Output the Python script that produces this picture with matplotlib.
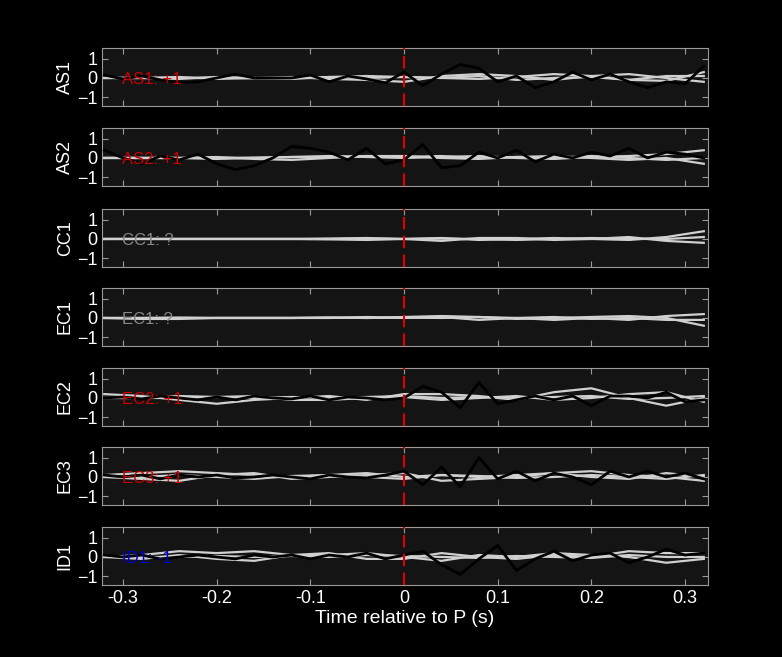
import matplotlib
matplotlib.use("Agg")
import matplotlib.pyplot as plt
import numpy as np

plt.rcParams['font.family'] = ['Liberation Sans', 'DejaVu Sans']

stations = ["AS1", "AS2", "CC1", "EC1", "EC2", "EC3", "ID1"]
polarity = ["+1", "+1", "?", "?", "+1", "+1", "-1"]
pol_colors = {"+1": "#cc0000", "?": "#888888", "-1": "#0000cc"}

t_black = np.round(np.arange(-0.32, 0.3201, 0.02), 3)
black = {
    "AS1": [0.15,-0.05,0.1,-0.1,-0.25,-0.2,0.0,0.2,0.0,0.0,0.0,0.15,-0.2,0.1,-0.05,-0.25,0.3,
            -0.4,0.2,0.7,0.5,-0.2,0.1,-0.5,-0.2,0.3,-0.1,0.2,-0.2,-0.5,-0.2,-0.3,0.6],
    "AS2": [0.4,0.0,-0.3,0.1,-0.1,0.2,-0.3,-0.6,-0.4,0.0,0.6,0.5,0.3,-0.1,0.5,-0.3,-0.1,
            0.7,-0.5,-0.4,0.3,0.0,0.4,-0.2,0.2,0.0,0.3,0.1,0.5,0.0,0.3,0.2,0.0],
    "CC1": None,
    "EC1": None,
    "EC2": [0,0.05,-0.05,0.1,0,-0.1,0.05,-0.1,0.1,0,-0.05,0.1,-0.1,0.05,0.0,-0.1,0.0,
            0.6,0.3,-0.5,0.8,-0.3,-0.1,0.1,-0.1,0.1,-0.4,0.1,0.1,0.0,0.3,-0.2,-0.1],
    "EC3": [0.1,0,0.1,-0.1,0.1,0,0.1,-0.05,0,0.1,0,-0.1,0.1,0,-0.05,0.1,0.3,
            -0.4,0.5,-0.5,1.0,-0.1,0.3,-0.2,0.2,0.0,-0.4,0.3,0.0,0.3,0.0,0.2,-0.1],
    "ID1": [0.1,0,0.1,-0.1,0,0.1,0,-0.1,0.1,0,0.1,-0.1,0.1,0,0.2,-0.1,0.1,
            0.3,-0.4,-0.9,-0.1,0.6,-0.7,-0.1,0.3,-0.2,0.1,0.2,-0.3,0.0,0.4,0.1,0.2],
}

t_grey = np.round(np.arange(-0.32, 0.3201, 0.04), 3)
grey = {
    "AS1": [[0,0,-0.05,0.05,0,-0.05,0.05,0.1,0.05,0,-0.05,0.05,0.2,0.1,-0.1,-0.15,0.3],
            [0,0,0.05,-0.05,0,0.05,-0.05,-0.1,-0.2,0.1,0.2,0.1,-0.1,0.1,0.2,0.0,-0.2],
            [0,0,0,0.02,-0.02,0,0.05,0.0,0.05,0,0.1,-0.1,0.0,0.05,-0.1,0.1,0.1]],
    "AS2": [[0,0,0,-0.05,0,0.05,0.1,0.05,0,0.05,0.1,0.0,-0.05,0.05,0.1,0.2,0.4],
            [0,0,0,0.05,-0.05,-0.1,0.0,0.1,0.1,0,-0.05,0.05,0.1,0.0,-0.1,0.0,-0.3],
            [0,0,0,0,0.02,0.05,0.05,0.1,0.05,0.1,0.0,0.05,0.0,0.1,0.0,-0.1,0.0]],
    "CC1": [[0,0,0,0,0,0,0.02,0.05,0,0.05,-0.05,0,0.05,0,-0.05,0.1,0.4],
            [0,0,0,0,0,0,-0.02,-0.05,0,-0.1,0.05,0.05,-0.05,0,0.1,-0.1,-0.2],
            [0,0,0,0,0,0,0,0.02,0,0.02,0,-0.05,0,0.05,0,0.0,0.1]],
    "EC1": [[0,-0.05,-0.05,0,0,0,0.02,0,0.05,0.1,0.05,-0.05,0.0,0.05,0.1,0.0,-0.4],
            [0,0,0.02,0,0,0,0,0.05,0,0.05,-0.1,0.0,-0.1,0,-0.1,0.1,0.2],
            [0,0,0,0,0,0,0.02,0,0.02,0,0.05,0.0,0.05,-0.05,0,-0.1,-0.1]],
    "EC2": [[0.2,0.1,-0.1,-0.3,-0.1,0.0,0.1,-0.1,0.2,0.2,0.1,-0.1,0.3,0.5,0.0,-0.4,0.0],
            [0,0,0.1,0.05,0.1,-0.1,-0.1,0,0.05,-0.1,0.0,0.1,-0.1,0.0,0.2,0.3,-0.2],
            [0,0,0,0.05,0,0.05,0,0.05,0.1,0,0.05,0.0,0.05,0.1,-0.05,0.0,0.1]],
    "EC3": [[0.1,0.2,0.3,0.2,0.1,0.0,0.1,0.2,0.0,0.1,0.0,0.1,0.2,0.3,0.1,0.0,-0.2],
            [0,-0.1,-0.2,0.1,0.2,-0.1,0.0,0.1,0.2,-0.2,-0.1,0.0,0.2,0.0,-0.1,0.2,0.0],
            [0,0,0.1,0,-0.1,0.05,0.1,0,-0.1,0.1,0.05,-0.05,0,0.1,0.0,-0.1,0.1]],
    "ID1": [[0,0.1,0.3,0.2,0.3,0.1,0.1,0.2,0.0,-0.2,0.1,0.0,0.2,0.1,0.0,-0.3,-0.1],
            [0,-0.1,0.1,-0.1,-0.2,0.1,0.2,-0.1,-0.1,0.2,0.0,-0.1,0.1,0.0,0.3,0.2,0.2],
            [0,0,0,0.05,0,0.05,0,0.1,0.05,0,-0.05,0.05,0,-0.05,0.1,0,0.0]],
}

fig = plt.figure(figsize=(7.82, 6.57), dpi=100, facecolor="black")
W, H = 782, 657
left, right = 102, 708
tops = [48, 128, 209, 288, 368, 447, 527]
ph = 58
spine_c = "#9a9a9a"
for i, st in enumerate(stations):
    ax = fig.add_axes([left / W, 1 - (tops[i] + ph) / H, (right - left) / W, ph / H])
    ax.set_facecolor("#141414")
    pc = pol_colors[polarity[i]]
    ax.text(-0.301, -0.1, f"{st}: {polarity[i]}", color=pc, fontsize=12,
            va="center", ha="left", zorder=5)
    for g in grey[st]:
        ax.plot(t_grey, g, color="#d0d0d0", lw=1.6, zorder=2)
    if black[st] is not None:
        ax.plot(t_black, black[st], color="black", lw=2, zorder=3)
    ax.axvline(0, color="#dd0000", lw=1.5, ls=(0, (6, 3)), zorder=4)
    ax.set_xlim(-0.3224, 0.3245)
    ax.set_ylim(-1.45, 1.55)
    ax.set_yticks([-1, 0, 1])
    ax.set_xticks([-0.3, -0.2, -0.1, 0, 0.1, 0.2, 0.3])
    ax.tick_params(direction="in", top=True, right=True, colors=spine_c,
                   labelcolor="white", labelsize=13, length=4)
    ax.set_ylabel(st, color="white", fontsize=13, labelpad=2)
    for s in ax.spines.values():
        s.set_color(spine_c)
    if i < len(stations) - 1:
        ax.set_xticklabels([])
    else:
        ax.set_xticklabels(["-0.3", "-0.2", "-0.1", "0", "0.1", "0.2", "0.3"])
        ax.set_xlabel("Time relative to P (s)", color="white", fontsize=14, labelpad=2)

fig.savefig("out.png", dpi=100, facecolor="black")
